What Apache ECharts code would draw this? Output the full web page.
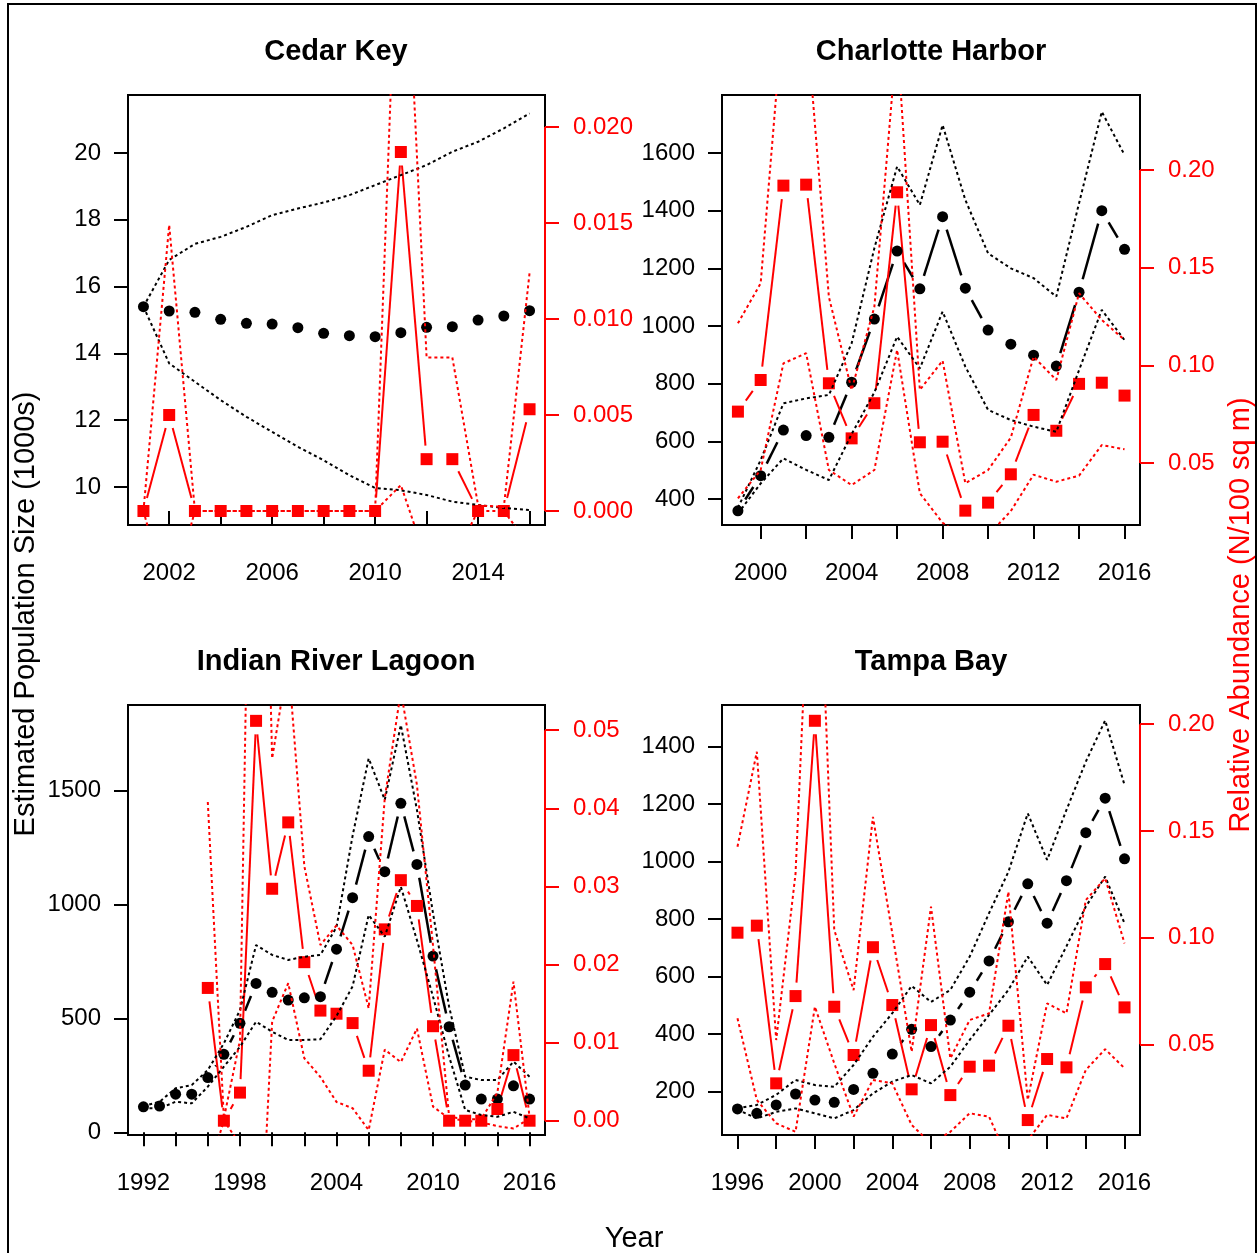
<!DOCTYPE html>
<html>
<head>
<meta charset="utf-8">
<script src="https://cdn.jsdelivr.net/npm/echarts@6.0.0/dist/echarts.min.js"></script>
<style>
  html, body { margin: 0; padding: 0; background: #fff; }
  #chart { width: 1259px; height: 1253px; }
</style>
</head>
<body>
<div id="chart"></div>
<script>
// ---------- Cedar Key ----------
const ckYears = [2001, 2002, 2003, 2004, 2005, 2006, 2007, 2008, 2009, 2010, 2011, 2012, 2013, 2014, 2015, 2016];
const ckPop = [15.40, 15.27, 15.23, 15.02, 14.90, 14.88, 14.77, 14.60, 14.53, 14.50, 14.62, 14.78, 14.80, 15.00, 15.12, 15.28];
const ckPopHi = [15.40, 16.80, 17.28, 17.49, 17.79, 18.14, 18.34, 18.52, 18.74, 19.04, 19.34, 19.64, 20.04, 20.34, 20.74, 21.19];
const ckPopLo = [15.40, 13.70, 13.15, 12.60, 12.10, 11.65, 11.20, 10.80, 10.35, 9.97, 9.90, 9.76, 9.56, 9.46, 9.37, 9.31];
const ckAbund = [0, 0.0050, 0, 0, 0, 0, 0, 0, 0, 0, 0.0187, 0.0027, 0.0027, 0, 0, 0.0053];
const ckAbundHi = [0, 0.0149, 0, 0, 0, 0, 0, 0, 0, 0, 0.0360, 0.0080, 0.0080, 0.0003, 0.0002, 0.0124];
const ckAbundLo = [0, -0.0049, 0, 0, 0, 0, 0, 0, 0, 0, 0.00135, -0.0026, -0.0026, 0, 0, -0.0018];
const ckXTicks = [2002, 2004, 2006, 2008, 2010, 2012, 2014, 2016];
const ckXLabels = [2002, 2006, 2010, 2014];
const ckYTicks = [10, 12, 14, 16, 18, 20];
const ckRTicks = [0, 0.005, 0.010, 0.015, 0.020];

// ---------- Charlotte Harbor ----------
const chYears = [1999, 2000, 2001, 2002, 2003, 2004, 2005, 2006, 2007, 2008, 2009, 2010, 2011, 2012, 2013, 2014, 2015, 2016];
const chPop = [359, 481, 639, 620, 614, 805, 1024, 1260, 1129, 1379, 1131, 986, 937, 899, 861, 1117, 1400, 1266];
const chPopHi = [370, 535, 732, 749, 761, 940, 1270, 1553, 1420, 1697, 1437, 1252, 1200, 1166, 1102, 1426, 1743, 1593];
const chPopLo = [350, 454, 541, 501, 466, 625, 770, 963, 853, 1050, 859, 709, 674, 651, 633, 847, 1056, 951];
const chAbund = [0.0763, 0.0925, 0.1920, 0.1925, 0.0908, 0.0626, 0.0806, 0.1886, 0.0606, 0.0609, 0.0256, 0.0297, 0.0442, 0.0746, 0.0665, 0.0905, 0.0911, 0.0845];
const chAbundHi = [0.1215, 0.1420, 0.2830, 0.2790, 0.1350, 0.0874, 0.1300, 0.2690, 0.0874, 0.1024, 0.0396, 0.0464, 0.0630, 0.1044, 0.0925, 0.1369, 0.1232, 0.1130];
const chAbundLo = [0.0319, 0.0464, 0.1010, 0.1062, 0.0464, 0.0387, 0.0464, 0.1079, 0.0345, 0.0194, 0.0116, 0.0130, 0.0254, 0.0440, 0.0404, 0.0435, 0.0592, 0.0570];
const chXTicks = [2000, 2002, 2004, 2006, 2008, 2010, 2012, 2014, 2016];
const chXLabels = [2000, 2004, 2008, 2012, 2016];
const chYTicks = [400, 600, 800, 1000, 1200, 1400, 1600];
const chRTicks = [0.05, 0.10, 0.15, 0.20];

// ---------- Indian River Lagoon ----------
const irYears = [1992, 1993, 1994, 1995, 1996, 1997, 1998, 1999, 2000, 2001, 2002, 2003, 2004, 2005, 2006, 2007, 2008, 2009, 2010, 2011, 2012, 2013, 2014, 2015, 2016];
const irPop = [112, 115, 167, 167, 240, 342, 478, 653, 614, 580, 590, 595, 803, 1029, 1297, 1143, 1443, 1175, 773, 463, 207, 146, 146, 204, 146];
const irPopHi = [115, 134, 193, 207, 273, 390, 536, 821, 778, 756, 770, 778, 900, 1300, 1640, 1458, 1786, 1414, 960, 551, 244, 229, 229, 310, 244];
const irPopLo = [105, 105, 134, 127, 200, 288, 375, 485, 441, 405, 405, 408, 510, 640, 953, 858, 1077, 843, 595, 332, 98, 76, 68, 90, 61];
const irAbundYears = [1996, 1997, 1998, 1999, 2000, 2001, 2002, 2003, 2004, 2005, 2006, 2007, 2008, 2009, 2010, 2011, 2012, 2013, 2014, 2015, 2016];
const irAbund = [0.0170, 0, 0.0036, 0.0512, 0.0297, 0.0382, 0.0203, 0.0141, 0.0137, 0.0125, 0.0064, 0.0245, 0.0308, 0.0275, 0.0121, 0, 0, 0, 0.0015, 0.0084, 0];
const irAbundHi = [0.0408, 0.0003, 0.0103, 0.1300, 0.0464, 0.0590, 0.0326, 0.0225, 0.0250, 0.0225, 0.0144, 0.0413, 0.0550, 0.0430, 0.0224, 0.0005, 0.0002, 0.0002, 0.0036, 0.0178, 0.0005];
const irAbundLo = [-0.0067, 0, -0.0030, -0.0280, 0.0127, 0.0176, 0.0080, 0.0056, 0.0024, 0.0016, -0.0012, 0.0091, 0.0075, 0.0118, 0.0018, 0.0003, 0, -0.0002, -0.0007, -0.0010, 0.0003];
const irXTicks = [1992, 1994, 1996, 1998, 2000, 2002, 2004, 2006, 2008, 2010, 2012, 2014, 2016];
const irXLabels = [1992, 1998, 2004, 2010, 2016];
const irYTicks = [0, 500, 1000, 1500];
const irRTicks = [0, 0.01, 0.02, 0.03, 0.04, 0.05];

// ---------- Tampa Bay ----------
const tbYears = [1996, 1997, 1998, 1999, 2000, 2001, 2002, 2003, 2004, 2005, 2006, 2007, 2008, 2009, 2010, 2011, 2012, 2013, 2014, 2015, 2016];
const tbPop = [140, 125, 154, 192, 171, 163, 208, 264, 331, 417, 357, 449, 546, 655, 791, 923, 786, 934, 1101, 1221, 1010];
const tbPopHi = [142, 154, 189, 241, 223, 217, 293, 391, 473, 568, 512, 554, 670, 821, 965, 1168, 1006, 1180, 1348, 1491, 1267];
const tbPopLo = [138, 107, 130, 142, 125, 107, 136, 194, 235, 258, 229, 287, 380, 467, 554, 670, 571, 706, 844, 948, 786];
const tbAbund = [0.1023, 0.1056, 0.0317, 0.0726, 0.2016, 0.0676, 0.0450, 0.0955, 0.0684, 0.0289, 0.0590, 0.0262, 0.0395, 0.0400, 0.0587, 0.0145, 0.0431, 0.0392, 0.0767, 0.0876, 0.0673];
const tbAbundHi = [0.1426, 0.1871, 0.0520, 0.1300, 0.3350, 0.1036, 0.0754, 0.1566, 0.1020, 0.0465, 0.1145, 0.0434, 0.0614, 0.0645, 0.1215, 0.0239, 0.0692, 0.0645, 0.1176, 0.1278, 0.0973];
const tbAbundLo = [0.0622, 0.0239, 0.0130, 0.0090, 0.0676, 0.0411, 0.0161, 0.0333, 0.0317, 0.0122, 0.0035, 0.0090, 0.0177, 0.0161, -0.0040, 0.0051, 0.0169, 0.0153, 0.0380, 0.0477, 0.0388];
const tbXTicks = [1996, 1998, 2000, 2002, 2004, 2006, 2008, 2010, 2012, 2014, 2016];
const tbXLabels = [1996, 2000, 2004, 2008, 2012, 2016];
const tbYTicks = [200, 400, 600, 800, 1000, 1200, 1400];
const tbRTicks = [0.05, 0.10, 0.15, 0.20];

const FONT = '"Liberation Sans", Arial, sans-serif';
const RED = '#ff0000';
const GAP = 13.5; // gap around points, like R type = "b"

const panels = [
  { title: 'Cedar Key', grid: { left: 128, top: 95, width: 417, height: 430 },
    x: [2000.4, 2016.6], xTicks: ckXTicks, xLabels: ckXLabels,
    y: [8.86, 21.74], yTicks: ckYTicks, r: [-0.00073, 0.02167], rTicks: ckRTicks, rDigits: 3,
    years: ckYears, pop: ckPop, popHi: ckPopHi, popLo: ckPopLo,
    aYears: ckYears, abund: ckAbund, abundHi: ckAbundHi, abundLo: ckAbundLo },
  { title: 'Charlotte Harbor', grid: { left: 722, top: 95, width: 418, height: 430 },
    x: [1998.3, 2016.68], xTicks: chXTicks, xLabels: chXLabels,
    y: [310, 1801], yTicks: chYTicks, r: [0.01825, 0.2384], rTicks: chRTicks, rDigits: 2,
    years: chYears, pop: chPop, popHi: chPopHi, popLo: chPopLo,
    aYears: chYears, abund: chAbund, abundHi: chAbundHi, abundLo: chAbundLo },
  { title: 'Indian River Lagoon', grid: { left: 128, top: 705, width: 417, height: 430 },
    x: [1991.04, 2016.96], xTicks: irXTicks, xLabels: irXLabels,
    y: [-11.8, 1874], yTicks: irYTicks, r: [-0.00183, 0.05323], rTicks: irRTicks, rDigits: 2,
    years: irYears, pop: irPop, popHi: irPopHi, popLo: irPopLo,
    aYears: irAbundYears, abund: irAbund, abundHi: irAbundHi, abundLo: irAbundLo },
  { title: 'Tampa Bay', grid: { left: 722, top: 705, width: 418, height: 430 },
    x: [1995.2, 2016.8], xTicks: tbXTicks, xLabels: tbXLabels,
    y: [49.4, 1545], yTicks: tbYTicks, r: [0.0075, 0.209], rTicks: tbRTicks, rDigits: 2,
    years: tbYears, pop: tbPop, popHi: tbPopHi, popLo: tbPopLo,
    aYears: tbYears, abund: tbAbund, abundHi: tbAbundHi, abundLo: tbAbundLo }
];

const pairs = (xs, ys) => xs.map((x, i) => [x, ys[i]]);
const segs = (xs, ys) => xs.slice(0, -1).map((x, i) => [x, ys[i], xs[i + 1], ys[i + 1]]);

// line between points with a gap at each end (R type = "b")
function gapLine(color, width) {
  return function (params, api) {
    const a = api.coord([api.value(0), api.value(1)]);
    const b = api.coord([api.value(2), api.value(3)]);
    const dx = b[0] - a[0], dy = b[1] - a[1];
    const d = Math.hypot(dx, dy);
    if (d <= 2 * GAP + 1) return { type: 'group', children: [] };
    const ux = dx / d, uy = dy / d;
    return {
      type: 'line',
      shape: { x1: a[0] + ux * GAP, y1: a[1] + uy * GAP, x2: b[0] - ux * GAP, y2: b[1] - uy * GAP },
      style: { stroke: color, lineWidth: width }
    };
  };
}

const grids = [], xAxes = [], yAxes = [], series = [];

panels.forEach((p, i) => {
  grids.push(Object.assign({ show: true, borderColor: '#000', borderWidth: 2, backgroundColor: 'transparent' }, p.grid));

  xAxes.push({
    gridIndex: i, type: 'value', min: p.x[0], max: p.x[1],
    axisLine: { show: false }, splitLine: { show: false },
    axisTick: { show: true, length: 14, customValues: p.xTicks, lineStyle: { color: '#000', width: 2 } },
    axisLabel: { customValues: p.xLabels, margin: 36, color: '#000', fontSize: 24, fontFamily: FONT, formatter: v => String(v) }
  });
  yAxes.push({
    gridIndex: i, type: 'value', position: 'left', min: p.y[0], max: p.y[1],
    axisLine: { show: false }, splitLine: { show: false },
    axisTick: { show: true, length: 14, customValues: p.yTicks, lineStyle: { color: '#000', width: 2 } },
    axisLabel: { customValues: p.yTicks, margin: 27, color: '#000', fontSize: 24, fontFamily: FONT, formatter: v => String(v) }
  });
  yAxes.push({
    gridIndex: i, type: 'value', position: 'right', min: p.r[0], max: p.r[1],
    axisLine: { show: false }, splitLine: { show: false },
    axisTick: { show: true, length: 14, customValues: p.rTicks, lineStyle: { color: RED, width: 2 } },
    axisLabel: { customValues: p.rTicks, margin: 28, color: RED, fontSize: 24, fontFamily: FONT, formatter: v => v.toFixed(p.rDigits) }
  });

  const yl = 2 * i, yr = 2 * i + 1;
  const dotted = (color) => ({ color: color, width: 2, type: [3, 3] });

  // population: CI, connecting line, points
  series.push({ type: 'line', xAxisIndex: i, yAxisIndex: yl, data: pairs(p.years, p.popHi), symbol: 'none', lineStyle: dotted('#000'), silent: true });
  series.push({ type: 'line', xAxisIndex: i, yAxisIndex: yl, data: pairs(p.years, p.popLo), symbol: 'none', lineStyle: dotted('#000'), silent: true });
  series.push({ type: 'custom', xAxisIndex: i, yAxisIndex: yl, data: segs(p.years, p.pop), renderItem: gapLine('#000', 2.5), silent: true });
  series.push({ type: 'scatter', xAxisIndex: i, yAxisIndex: yl, data: pairs(p.years, p.pop), symbol: 'circle', symbolSize: 11, itemStyle: { color: '#000', opacity: 1 }, silent: true });

  // relative abundance: CI, connecting line, squares
  series.push({ type: 'line', xAxisIndex: i, yAxisIndex: yr, data: pairs(p.aYears, p.abundHi), symbol: 'none', lineStyle: dotted(RED), silent: true });
  series.push({ type: 'line', xAxisIndex: i, yAxisIndex: yr, data: pairs(p.aYears, p.abundLo), symbol: 'none', lineStyle: dotted(RED), silent: true });
  series.push({ type: 'custom', xAxisIndex: i, yAxisIndex: yr, data: segs(p.aYears, p.abund), renderItem: gapLine(RED, 2), silent: true });
  series.push({ type: 'scatter', xAxisIndex: i, yAxisIndex: yr, data: pairs(p.aYears, p.abund), symbol: 'rect', symbolSize: 12, itemStyle: { color: RED, opacity: 1 }, silent: true });

  // red right axis line, from first to last tick
  series.push({ type: 'line', xAxisIndex: i, yAxisIndex: yr, clip: false, symbol: 'none', silent: true, z: 5,
    data: [[p.x[1], p.rTicks[0]], [p.x[1], p.rTicks[p.rTicks.length - 1]]], lineStyle: { color: RED, width: 2 } });
});

const titleText = (text, x, y) => ({ type: 'text', x: x, y: y,
  style: { text: text, font: 'bold 29px ' + FONT, fill: '#000', textAlign: 'center', textVerticalAlign: 'middle' } });

const chart = echarts.init(document.getElementById('chart'), null, { renderer: 'canvas' });
chart.setOption({
  animation: false,
  backgroundColor: '#fff',
  grid: grids,
  xAxis: xAxes,
  yAxis: yAxes,
  series: series,
  graphic: [
    { type: 'rect', shape: { x: 8, y: 4, width: 1248, height: 1265 }, style: { fill: 'none', stroke: '#000', lineWidth: 2 }, silent: true },
    titleText('Cedar Key', 336, 52),
    titleText('Charlotte Harbor', 931, 52),
    titleText('Indian River Lagoon', 336, 662),
    titleText('Tampa Bay', 931, 662),
    { type: 'text', x: 634, y: 1239,
      style: { text: 'Year', font: '29px ' + FONT, fill: '#000', textAlign: 'center', textVerticalAlign: 'middle' } },
    { type: 'text', x: 26, y: 614, rotation: Math.PI / 2,
      style: { text: 'Estimated Population Size (1000s)', font: '29px ' + FONT, fill: '#000', textAlign: 'center', textVerticalAlign: 'middle' } },
    { type: 'text', x: 1241, y: 615, rotation: Math.PI / 2,
      style: { text: 'Relative Abundance (N/100 sq m)', font: '29px ' + FONT, fill: RED, textAlign: 'center', textVerticalAlign: 'middle' } }
  ]
});
</script>
</body>
</html>
